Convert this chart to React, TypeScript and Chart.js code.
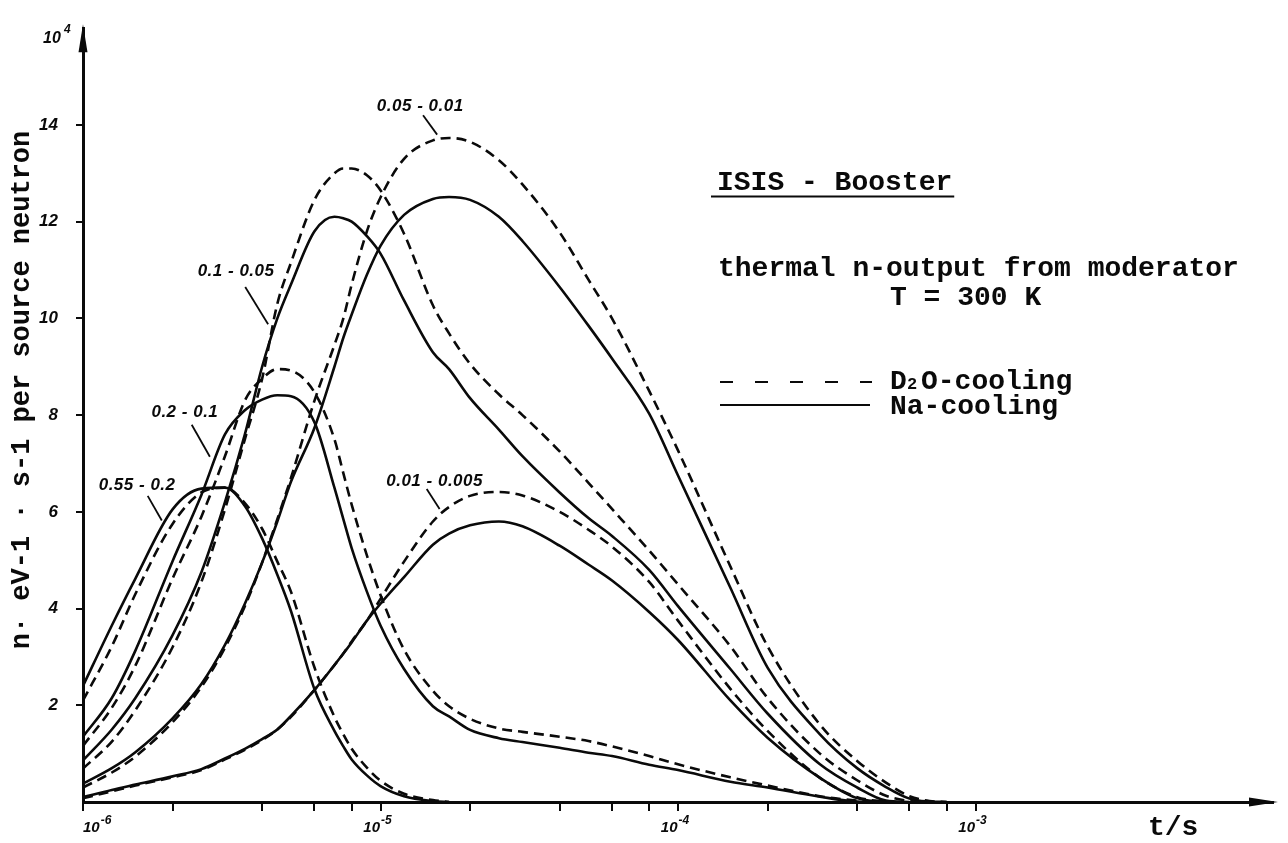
import React, { useEffect, useRef } from "react";
import { Chart, registerables } from "chart.js";

Chart.register(...registerables);

// ---------- data ----------
// time axis (seconds) shared by all curves
const TIMES = [
  1e-6, 1.25e-6, 1.5e-6, 2e-6, 2.5e-6, 3e-6, 3.5e-6, 4e-6, 4.5e-6, 5e-6,
  6e-6, 7e-6, 7.5e-6, 8e-6, 9e-6, 1e-5, 1.2e-5, 1.5e-5, 1.7e-5, 2e-5,
  2.5e-5, 3e-5, 4e-5, 5e-5, 6e-5, 8e-5, 1e-4, 1.5e-4, 2e-4, 3e-4,
  4e-4, 5e-4, 6e-4, 7e-4, 8e-4,
];

// energy bin 0.55 - 0.2 eV
const NA_055_02 = [
  2.40, 3.65, 4.62, 6.05, 6.48, 6.50, 6.12, 5.45, 4.70, 3.95,
  2.33, 1.47, 1.15, 0.88, 0.55, 0.33, 0.12, 0.02, 0, null,
  null, null, null, null, null, null, null, null, null, null,
  null, null, null, null, null,
];
const D2O_055_02 = [
  2.10, 3.22, 4.30, 5.75, 6.40, 6.50, 6.18, 5.65, 4.97, 4.35,
  2.78, 1.76, 1.40, 1.10, 0.71, 0.44, 0.17, 0.04, 0, null,
  null, null, null, null, null, null, null, null, null, null,
  null, null, null, null, null,
];

// energy bin 0.2 - 0.1 eV
const NA_02_01 = [
  1.35, 2.15, 3.13, 4.98, 6.35, 7.60, 8.10, 8.32, 8.41, 8.39,
  7.85, 6.50, 5.85, 5.25, 4.35, 3.65, 2.75, 1.98, 1.77, 1.49,
  1.32, 1.24, 1.12, 1.02, 0.95, 0.77, 0.66, 0.42, 0.30, 0.11,
  0.01, 0, null, null, null,
];
const D2O_02_01 = [
  1.16, 1.95, 2.82, 4.62, 5.90, 7.15, 8.30, 8.75, 8.95, 8.92,
  8.47, 7.50, 6.80, 6.15, 5.10, 4.28, 3.15, 2.30, 1.98, 1.72,
  1.52, 1.45, 1.35, 1.26, 1.15, 0.95, 0.78, 0.51, 0.34, 0.12,
  0.03, 0, null, null, null,
];

// energy bin 0.1 - 0.05 eV
const NA_01_005 = [
  0.86, 1.50, 2.15, 3.45, 4.75, 6.20, 7.60, 9.00, 10.00, 10.70,
  11.80, 12.10, 12.07, 12.00, 11.70, 11.34, 10.37, 9.30, 8.95, 8.35,
  7.70, 7.15, 6.40, 5.87, 5.50, 4.80, 4.05, 2.75, 1.83, 0.78,
  0.30, 0.03, 0, null, null,
];
const D2O_01_005 = [
  0.69, 1.25, 1.90, 3.20, 4.55, 6.05, 7.50, 8.75, 10.30, 11.15,
  12.45, 13.00, 13.10, 13.10, 12.96, 12.65, 11.75, 10.27, 9.69, 9.06,
  8.43, 8.00, 7.25, 6.60, 6.06, 5.20, 4.50, 3.22, 2.15, 1.00,
  0.45, 0.13, 0.02, 0, null,
];

// energy bin 0.05 - 0.01 eV
const NA_005_001 = [
  0.38, 0.70, 1.03, 1.73, 2.44, 3.25, 4.10, 4.95, 5.80, 6.62,
  7.74, 9.00, 9.60, 10.08, 10.90, 11.50, 12.14, 12.47, 12.51, 12.45,
  12.10, 11.60, 10.65, 9.85, 9.17, 8.03, 6.75, 4.43, 2.78, 1.40,
  0.70, 0.31, 0.07, 0.01, 0,
];
const D2O_005_001 = [
  0.30, 0.61, 0.94, 1.65, 2.38, 3.19, 4.05, 4.95, 5.85, 6.70,
  8.30, 9.45, 10.00, 10.70, 11.80, 12.50, 13.30, 13.68, 13.73, 13.65,
  13.27, 12.77, 11.78, 10.80, 10.00, 8.50, 7.27, 4.87, 3.22, 1.60,
  0.85, 0.40, 0.12, 0.02, 0,
];

// energy bin 0.01 - 0.005 eV
const NA_001_0005 = [
  0.10, 0.25, 0.36, 0.53, 0.68, 0.90, 1.10, 1.30, 1.50, 1.78,
  2.32, 2.83, 3.07, 3.30, 3.75, 4.10, 4.65, 5.32, 5.55, 5.72,
  5.80, 5.70, 5.30, 4.91, 4.58, 3.93, 3.35, 2.10, 1.33, 0.50,
  0.08, 0, null, null, null,
];
const D2O_001_0005 = [
  0.08, 0.22, 0.34, 0.51, 0.66, 0.88, 1.08, 1.28, 1.50, 1.76,
  2.32, 2.83, 3.07, 3.32, 3.75, 4.20, 4.97, 5.80, 6.10, 6.33,
  6.41, 6.34, 6.00, 5.63, 5.28, 4.55, 3.75, 2.34, 1.47, 0.50,
  0.10, 0, null, null, null,
];

// axis ticks
const X_TICKS = [
  1e-6, 2e-6, 4e-6, 6e-6, 8e-6, 1e-5, 2e-5, 4e-5, 6e-5, 8e-5,
  1e-4, 2e-4, 4e-4, 6e-4, 8e-4, 1e-3,
];
const X_LABEL_TICKS = [1e-6, 1e-5, 1e-4, 1e-3];
const X_LABEL_BASE = "10";
const X_LABEL_EXPONENTS = ["-6", "-5", "-4", "-3"];
const Y_TICKS = [2, 4, 6, 8, 10, 12, 14];
const Y_MULTIPLIER_BASE = "10";
const Y_MULTIPLIER_EXP = "4";

// curve labels: text, text anchor (t, value), leader line start and end (t, value)
const CURVE_LABELS = ["0.55 - 0.2", "0.2 - 0.1", "0.1 - 0.05", "0.05 - 0.01", "0.01 - 0.005"];
const CURVE_LABEL_AT = [
  [1.52e-6, 6.55], [2.2e-6, 8.06], [3.27e-6, 10.98], [1.36e-5, 14.39], [1.52e-5, 6.63],
];
const LEADER_FROM = [
  [1.65e-6, 6.33], [2.32e-6, 7.8], [3.51e-6, 10.65], [1.39e-5, 14.2], [1.43e-5, 6.47],
];
const LEADER_TO = [
  [1.84e-6, 5.82], [2.67e-6, 7.14], [4.19e-6, 9.88], [1.55e-5, 13.8], [1.58e-5, 6.06],
];

const Y_TITLE = "n· eV-1 · s-1 per source neutron";
const X_TITLE = "t/s";
const TITLE = "ISIS - Booster";
const SUBTITLE_1 = "thermal n-output from moderator";
const SUBTITLE_2 = "T = 300 K";

// ---------- styles ----------
const INK = "#0a0a0a";
const MONO = '"Liberation Mono", "Courier New", monospace';
const HAND = '"Liberation Sans", Arial, sans-serif';
const DASH = [10, 6];

const SERIES: { values: (number | null)[]; dashed: boolean }[] = [
  { values: D2O_055_02, dashed: true },
  { values: NA_055_02, dashed: false },
  { values: D2O_02_01, dashed: true },
  { values: NA_02_01, dashed: false },
  { values: D2O_01_005, dashed: true },
  { values: NA_01_005, dashed: false },
  { values: D2O_005_001, dashed: true },
  { values: NA_005_001, dashed: false },
  { values: D2O_001_0005, dashed: true },
  { values: NA_001_0005, dashed: false },
];

const overlayPlugin = {
  id: "overlay",
  afterDraw(chart: any) {
    const ctx: CanvasRenderingContext2D = chart.ctx;
    const xs = chart.scales.x;
    const ys = chart.scales.y;
    const a = chart.chartArea;
    const px = (t: number) => xs.getPixelForValue(t);
    const py = (v: number) => ys.getPixelForValue(v);
    ctx.save();
    ctx.fillStyle = INK;
    ctx.strokeStyle = INK;

    // axis arrows
    ctx.beginPath();
    ctx.moveTo(a.left, a.top - 4);
    ctx.lineTo(a.left - 4.5, a.top + 24);
    ctx.lineTo(a.left + 4.5, a.top + 24);
    ctx.closePath();
    ctx.fill();
    ctx.beginPath();
    ctx.moveTo(a.right + 5, a.bottom);
    ctx.lineTo(a.right - 24, a.bottom - 4.5);
    ctx.lineTo(a.right - 24, a.bottom + 4.5);
    ctx.closePath();
    ctx.fill();

    // x tick labels (power-of-ten with raised exponent)
    ctx.textBaseline = "alphabetic";
    ctx.textAlign = "left";
    X_LABEL_TICKS.forEach((t, i) => {
      ctx.font = `italic bold 15px ${HAND}`;
      const wb = ctx.measureText(X_LABEL_BASE).width;
      ctx.font = `italic bold 12px ${HAND}`;
      const we = ctx.measureText(X_LABEL_EXPONENTS[i]).width;
      const total = wb + 1 + we;
      const x0 = Math.max(px(t) - total / 2 - 3, a.left);
      ctx.font = `italic bold 15px ${HAND}`;
      ctx.fillText(X_LABEL_BASE, x0, a.bottom + 30);
      ctx.font = `italic bold 12px ${HAND}`;
      ctx.fillText(X_LABEL_EXPONENTS[i], x0 + wb + 1, a.bottom + 22);
    });

    // 10^4 multiplier at top of y axis
    ctx.font = `italic bold 16px ${HAND}`;
    ctx.fillText(Y_MULTIPLIER_BASE, a.left - 40, a.top + 15);
    ctx.font = `italic bold 12px ${HAND}`;
    ctx.fillText(Y_MULTIPLIER_EXP, a.left - 19, a.top + 5);

    // x title
    ctx.font = `bold 28px ${MONO}`;
    ctx.fillText(X_TITLE, px(3.8e-3), a.bottom + 33);

    // y title
    ctx.save();
    ctx.translate(22, 390);
    ctx.rotate(-Math.PI / 2);
    ctx.textAlign = "center";
    ctx.textBaseline = "middle";
    ctx.font = `bold 27px ${MONO}`;
    ctx.fillText(Y_TITLE, 0, 0);
    ctx.restore();

    // header texts
    ctx.textAlign = "left";
    ctx.textBaseline = "alphabetic";
    ctx.font = `bold 28px ${MONO}`;
    const tx = 717;
    ctx.fillText(TITLE, tx, 190);
    const tw = ctx.measureText(TITLE).width;
    ctx.lineWidth = 2;
    ctx.beginPath();
    ctx.moveTo(tx - 6, 196.5);
    ctx.lineTo(tx + tw + 2, 196.5);
    ctx.stroke();
    ctx.fillText(SUBTITLE_1, 718, 276);
    ctx.fillText(SUBTITLE_2, 890, 305);

    // legend
    ctx.lineWidth = 2;
    ctx.setLineDash([13, 22]);
    ctx.beginPath();
    ctx.moveTo(720, 382);
    ctx.lineTo(872, 382);
    ctx.stroke();
    ctx.setLineDash([]);
    ctx.beginPath();
    ctx.moveTo(720, 405);
    ctx.lineTo(870, 405);
    ctx.stroke();
    ctx.font = `bold 28px ${MONO}`;
    ctx.fillText("D", 890, 389);
    ctx.font = `bold 17px ${MONO}`;
    ctx.fillText("2", 907, 389);
    ctx.font = `bold 28px ${MONO}`;
    ctx.fillText("O-cooling", 921, 389);
    ctx.fillText("Na-cooling", 890, 414);

    // curve labels with leader lines
    ctx.font = `italic bold 17px ${HAND}`;
    (ctx as any).letterSpacing = "0.5px";
    ctx.textAlign = "center";
    ctx.textBaseline = "middle";
    ctx.lineWidth = 1.8;
    CURVE_LABELS.forEach((txt, i) => {
      const [t, v] = CURVE_LABEL_AT[i];
      ctx.fillText(txt, px(t), py(v));
      ctx.beginPath();
      ctx.moveTo(px(LEADER_FROM[i][0]), py(LEADER_FROM[i][1]));
      ctx.lineTo(px(LEADER_TO[i][0]), py(LEADER_TO[i][1]));
      ctx.stroke();
    });
    (ctx as any).letterSpacing = "0px";
    ctx.restore();
  },
};

export default function App() {
  const ref = useRef<HTMLCanvasElement | null>(null);

  useEffect(() => {
    if (!ref.current) return;
    const datasets = SERIES.map((s) => ({
      data: TIMES.map((t, i) => ({ x: t, y: s.values[i] })),
      borderColor: INK,
      borderWidth: 2.6,
      borderDash: s.dashed ? DASH : [],
      pointRadius: 0,
      fill: false,
      cubicInterpolationMode: "monotone" as const,
      spanGaps: false,
    }));

    const chart = new Chart(ref.current, {
      type: "line",
      data: { datasets },
      options: {
        animation: false,
        responsive: false,
        parsing: false as any,
        layout: { padding: { left: 0, right: 15, top: 18, bottom: 0 } },
        plugins: { legend: { display: false }, tooltip: { enabled: false } },
        scales: {
          x: {
            type: "logarithmic",
            min: 1e-6,
            max: 1e-2,
            afterBuildTicks: (s: any) => {
              s.ticks = X_TICKS.map((v) => ({ value: v }));
            },
            afterFit: (s: any) => {
              s.height = 41;
            },
            border: { display: true, color: INK, width: 3 },
            grid: {
              display: true,
              drawOnChartArea: false,
              drawTicks: true,
              tickLength: 9,
              color: INK,
              lineWidth: 2,
            },
            ticks: {
              display: false,
              autoSkip: false,
              maxRotation: 0,
              minRotation: 0,
            },
          },
          y: {
            type: "linear",
            min: 0,
            max: 16,
            afterBuildTicks: (s: any) => {
              s.ticks = Y_TICKS.map((v) => ({ value: v }));
            },
            afterFit: (s: any) => {
              s.width = 83;
            },
            border: { display: true, color: INK, width: 3 },
            grid: {
              display: true,
              drawOnChartArea: false,
              drawTicks: true,
              tickLength: 7,
              color: INK,
              lineWidth: 2,
            },
            ticks: {
              autoSkip: false,
              color: INK,
              padding: 18,
              font: { family: HAND, size: 17, style: "italic", weight: "bold" },
              callback: (v: any) => String(v),
            },
          },
        },
      },
      plugins: [overlayPlugin],
    });
    return () => chart.destroy();
  }, []);

  return (
    <div
      style={{
        position: "absolute",
        left: 0,
        top: 0,
        width: 1288,
        height: 843,
        background: "#fff",
      }}
    >
      <canvas ref={ref} width={1288} height={843} style={{ display: "block" }} />
    </div>
  );
}
